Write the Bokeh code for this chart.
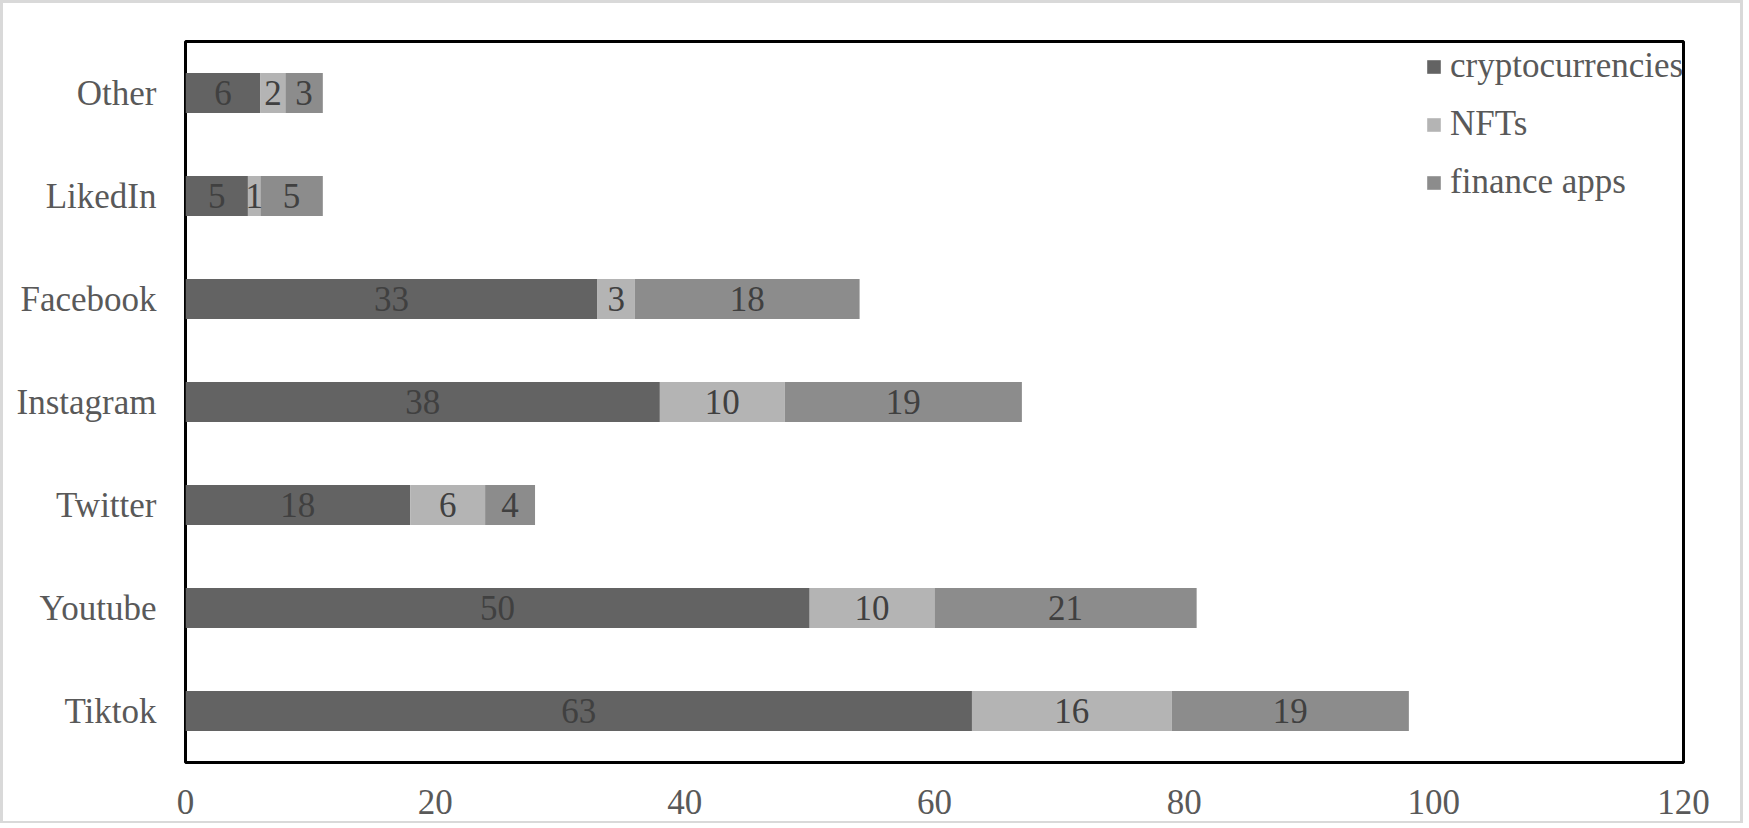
from bokeh.plotting import figure
from bokeh.models import ColumnDataSource, LabelSet, Legend, LegendItem, FactorRange, FixedTicker, Range1d
from bokeh.embed import file_html
from bokeh.resources import INLINE

# ---- data ----
platforms = ["Tiktok", "Youtube", "Twitter", "Instagram", "Facebook", "LikedIn", "Other"]
crypto = [63, 50, 18, 38, 33, 5, 6]
nfts = [16, 10, 6, 10, 3, 1, 2]
finance = [19, 21, 4, 19, 18, 5, 3]
series_names = ["cryptocurrencies", "NFTs", "finance apps"]
colors = ["#636363", "#b4b4b4", "#8c8c8c"]
x_ticks = [0, 20, 40, 60, 80, 100, 120]

FONT = "Liberation Serif"
TXT = "#595959"
FS = "35px"

source = ColumnDataSource(dict(cat=platforms, crypto=crypto, nfts=nfts, finance=finance))

p = figure(
    width=1743, height=823,
    y_range=FactorRange(*platforms), x_range=Range1d(0, 120),
    output_backend="svg", toolbar_location=None,
    min_border_left=182, min_border_right=63, min_border_top=38, min_border_bottom=64,
)
p.styles = {"border-style": "solid", "border-color": "#d9d9d9",
            "border-width": "3px 3px 2px 3px"}

renderers = p.hbar_stack(["crypto", "nfts", "finance"], y="cat", height=0.39,
                         color=colors, line_color=None, source=source)

# segment labels
vals = [crypto, nfts, finance]
lx, ly, lt = [], [], []
for i, cat in enumerate(platforms):
    left = 0
    for s in vals:
        v = s[i]
        lx.append(left + v / 2)
        ly.append(cat)
        lt.append(str(v))
        left += v
lsrc = ColumnDataSource(dict(x=lx, y=ly, t=lt))
labels = LabelSet(x="x", y="y", text="t", source=lsrc, text_align="center",
                  text_baseline="middle", text_font=FONT, text_font_size=FS,
                  text_color="#404040")
p.add_layout(labels)

legend = Legend(items=[LegendItem(label=n, renderers=[r]) for n, r in zip(series_names, renderers)],
                location=(1240, 560), border_line_color=None, background_fill_alpha=0,
                padding=0, margin=0, spacing=18, glyph_width=17, glyph_height=17,
                label_text_font=FONT, label_text_font_size=FS, label_text_color=TXT,
                label_standoff=8)
p.add_layout(legend)

p.outline_line_color = "black"
p.outline_line_width = 3
p.xgrid.grid_line_color = None
p.ygrid.grid_line_color = None

for ax in (p.xaxis[0], p.yaxis[0]):
    ax.axis_line_color = None
    ax.major_tick_line_color = None
    ax.minor_tick_line_color = None
    ax.major_label_text_font = FONT
    ax.major_label_text_font_size = FS
    ax.major_label_text_color = TXT

p.xaxis[0].ticker = FixedTicker(ticks=x_ticks)
p.xaxis[0].major_label_standoff = 21
p.yaxis[0].major_label_standoff = 23

open("out.html", "w").write(file_html(p, INLINE))
